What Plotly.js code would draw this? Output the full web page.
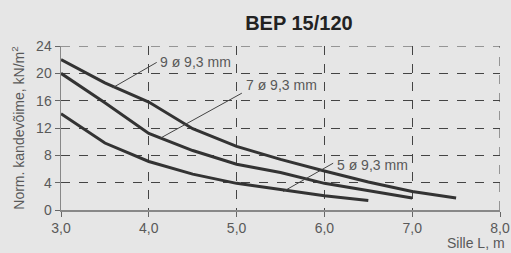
<!DOCTYPE html>
<html>
<head>
<meta charset="utf-8">
<script src="https://cdn.plot.ly/plotly-3.0.1.min.js"></script>
<style>html,body{margin:0;padding:0;background:#e6e6e6;}#chart{width:511px;height:253px;}</style>
</head>
<body>
<div id="chart"></div>
<script>
// Span lengths (m)
const span9 = [3.0, 3.5, 4.0, 4.5, 5.0, 5.5, 6.0, 6.5, 7.0, 7.5];
const span7 = [3.0, 3.5, 4.0, 4.5, 5.0, 5.5, 6.0, 6.5, 7.0];
const span5 = [3.0, 3.5, 4.0, 4.5, 5.0, 5.5, 6.0, 6.5];
// Normative load capacity (kN/m2)
const load9 = [22.0, 18.6, 15.8, 11.9, 9.3, 7.4, 5.7, 4.1, 2.7, 1.75];
const load7 = [20.0, 15.7, 11.2, 8.7, 6.7, 5.5, 3.9, 2.8, 1.75];
const load5 = [14.1, 9.8, 7.1, 5.25, 3.9, 3.0, 2.1, 1.4];
// Series labels and leader line anchors
const seriesNames = ['9 ø 9,3 mm', '7 ø 9,3 mm', '5 ø 9,3 mm'];
const leaderFrom = [[3.59, 17.9], [4.13, 10.5], [5.53, 2.7]];
const leaderTo = [[4.09, 21.6], [5.06, 17.1], [6.10, 6.85]];
const labelPos = [[4.11, 21.6], [5.08, 18.3], [6.12, 6.55]];
const xTicks = [3, 4, 5, 6, 7, 8];
const yTicks = [0, 4, 8, 12, 16, 20, 24];
const xRange = [3, 8];
const yRange = [0, 24];

const lineStyle = {color: '#333333', width: 3};
const traces = [
  {x: span9, y: load9, name: seriesNames[0], mode: 'lines', line: lineStyle},
  {x: span7, y: load7, name: seriesNames[1], mode: 'lines', line: lineStyle},
  {x: span5, y: load5, name: seriesNames[2], mode: 'lines', line: lineStyle}
];

const shapes = leaderFrom.map((p, i) => ({
  type: 'line', xref: 'x', yref: 'y',
  x0: p[0], y0: p[1], x1: leaderTo[i][0], y1: leaderTo[i][1],
  line: {color: '#444444', width: 1}
}));
// dashed frame lines at the top and right ends of the grid
shapes.push({type: 'line', xref: 'x', yref: 'y', x0: xRange[0], x1: xRange[1], y0: yRange[1], y1: yRange[1],
  line: {color: '#444444', width: 1, dash: 'dash'}, layer: 'below'});
shapes.push({type: 'line', xref: 'x', yref: 'y', x0: xRange[1], x1: xRange[1], y0: yRange[0], y1: yRange[1],
  line: {color: '#444444', width: 1, dash: 'dash'}, layer: 'below'});

const annotations = seriesNames.map((t, i) => ({
  text: t, x: labelPos[i][0], y: labelPos[i][1], xref: 'x', yref: 'y',
  xanchor: 'left', yanchor: 'middle', showarrow: false,
  font: {family: 'Liberation Sans', size: 14, color: '#595959'}
}));
annotations.push({
  text: 'Sille L, m', xref: 'paper', yref: 'paper', x: 1.015, y: -0.2,
  xanchor: 'right', yanchor: 'middle', showarrow: false,
  font: {family: 'Liberation Sans', size: 14, color: '#595959'}
});

const axisCommon = {
  showgrid: true, griddash: 'dash', gridcolor: '#444444', gridwidth: 1,
  showline: true, linecolor: '#888888', linewidth: 1.5,
  ticks: 'outside', ticklen: 5, tickcolor: '#666666', tickwidth: 1,
  zeroline: false, fixedrange: true,
  tickfont: {family: 'Liberation Sans', size: 14, color: '#595959'}
};

const layout = {
  width: 511, height: 253,
  margin: {l: 61, r: 11, t: 46, b: 43},
  paper_bgcolor: '#e6e6e6', plot_bgcolor: '#e6e6e6',
  separators: ', ',
  showlegend: false,
  title: {
    text: '<b>BEP 15/120</b>', x: 0.585, xanchor: 'center', y: 0.91, yanchor: 'middle',
    font: {family: 'Liberation Sans', size: 20, color: '#222222'}
  },
  xaxis: Object.assign({}, axisCommon, {
    range: xRange, tickvals: xTicks, tickformat: '.1f'
  }),
  yaxis: Object.assign({}, axisCommon, {
    range: yRange, tickvals: yTicks,
    title: {text: 'Norm. kandevõime, kN/m<sup>2</sup>', standoff: 8,
      font: {family: 'Liberation Sans', size: 14, color: '#595959'}}
  }),
  shapes: shapes,
  annotations: annotations
};

Plotly.newPlot('chart', traces, layout, {displayModeBar: false, staticPlot: true});
</script>
</body>
</html>
